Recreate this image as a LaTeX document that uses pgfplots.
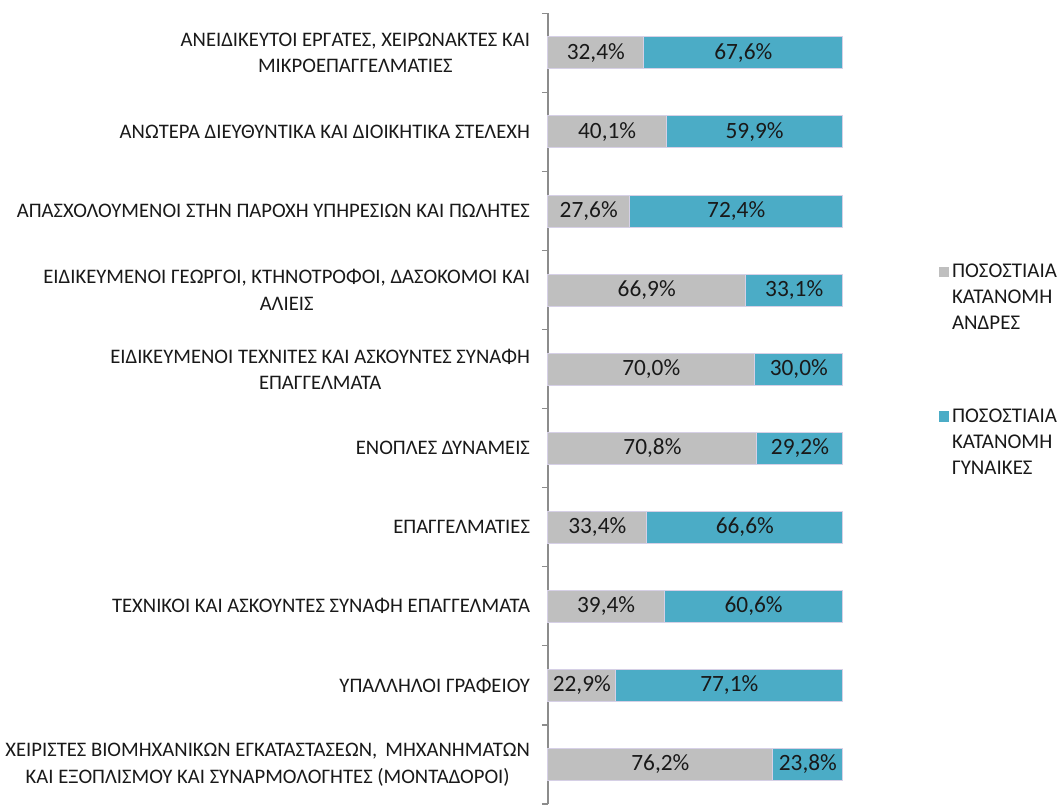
\documentclass[border=0pt]{standalone}
\usepackage{pgfplots}
\pgfplotsset{compat=1.18}
\usepackage{pgfplotstable}
\usepackage{fontspec}
\setmainfont{Carlito}
\definecolor{mgrey}{HTML}{BFBFBF}
\definecolor{fteal}{HTML}{4BACC6}
\definecolor{bord}{HTML}{D6D0E6}
\definecolor{axgrey}{HTML}{8C8C8C}

\pgfplotstableread{
i m w
0 32.4 67.6
1 40.1 59.9
2 27.6 72.4
3 66.9 33.1
4 70.0 30.0
5 70.8 29.2
6 33.4 66.6
7 39.4 60.6
8 22.9 77.1
9 76.2 23.8
}\data

\begin{document}
\begin{tikzpicture}
\begin{axis}[
 scale only axis, width=221.25pt, height=592.95pt,
 xbar stacked, bar width=24pt,
 xmin=0, xmax=100, ymin=-0.5, ymax=9.5, y dir=reverse,
 axis x line=none, axis y line*=left,
 axis line style={axgrey, line width=0.9pt, -},
 ytick={0,...,9},
 yticklabels={
  {ΑΝΕΙΔΙΚΕΥΤΟΙ ΕΡΓΑΤΕΣ, ΧΕΙΡΩΝΑΚΤΕΣ ΚΑΙ\\ΜΙΚΡΟΕΠΑΓΓΕΛΜΑΤΙΕΣ},
  {ΑΝΩΤΕΡΑ ΔΙΕΥΘΥΝΤΙΚΑ ΚΑΙ ΔΙΟΙΚΗΤΙΚΑ ΣΤΕΛΕΧΗ},
  {ΑΠΑΣΧΟΛΟΥΜΕΝΟΙ ΣΤΗΝ ΠΑΡΟΧΗ ΥΠΗΡΕΣΙΩΝ ΚΑΙ ΠΩΛΗΤΕΣ},
  {ΕΙΔΙΚΕΥΜΕΝΟΙ ΓΕΩΡΓΟΙ, ΚΤΗΝΟΤΡΟΦΟΙ, ΔΑΣΟΚΟΜΟΙ ΚΑΙ\\ΑΛΙΕΙΣ},
  {ΕΙΔΙΚΕΥΜΕΝΟΙ ΤΕΧΝΙΤΕΣ ΚΑΙ ΑΣΚΟΥΝΤΕΣ ΣΥΝΑΦΗ\\ΕΠΑΓΓΕΛΜΑΤΑ},
  {ΕΝΟΠΛΕΣ ΔΥΝΑΜΕΙΣ},
  {ΕΠΑΓΓΕΛΜΑΤΙΕΣ},
  {ΤΕΧΝΙΚΟΙ ΚΑΙ ΑΣΚΟΥΝΤΕΣ ΣΥΝΑΦΗ ΕΠΑΓΓΕΛΜΑΤΑ},
  {ΥΠΑΛΛΗΛΟΙ ΓΡΑΦΕΙΟΥ},
  {ΧΕΙΡΙΣΤΕΣ ΒΙΟΜΗΧΑΝΙΚΩΝ ΕΓΚΑΤΑΣΤΑΣΕΩΝ,\, ΜΗΧΑΝΗΜΑΤΩΝ\\ΚΑΙ ΕΞΟΠΛΙΣΜΟΥ ΚΑΙ ΣΥΝΑΡΜΟΛΟΓΗΤΕΣ (ΜΟΝΤΑΔΟΡΟΙ)}
 },
 minor ytick={-0.5,0.5,...,9.5},
 major tick length=0pt, minor tick length=4.5pt, tick align=outside,
 tick style={axgrey, line width=0.9pt},
 yticklabel style={align=center, font=\fontsize{15.5}{20}\selectfont, text=black!90, xshift=-10pt},
 /pgf/number format/assume math mode=true,
 point meta=explicit,
 nodes near coords={\pgfmathprintnumber[fixed,fixed zerofill,precision=1,use comma]{\pgfplotspointmeta}\%},
 every node near coord/.append style={anchor=center, font=\fontsize{17.5}{20}\selectfont, text=black!90},
 legend style={at={(1.31,0.69)}, anchor=north west, draw=none, fill=none,
   font=\fontsize{15.7}{19.5}\selectfont, nodes={align=left, text=black!90}, row sep=54pt},
 legend cell align=left,
 legend image code/.code={\fill[#1, draw=none] (0pt,15.5pt) rectangle (8pt,23.5pt);},
 clip=false,
]
\coordinate (SW) at (rel axis cs:0,0);
\addplot[fill=mgrey, draw=bord, line width=0.75pt] table[x=m, y=i, meta=m] {\data};
\addplot[fill=fteal, draw=bord, line width=0.75pt] table[x=w, y=i, meta=w] {\data};
\legend{{ΠΟΣΟΣΤΙΑΙΑ\\ΚΑΤΑΝΟΜΗ\\ΑΝΔΡΕΣ},{ΠΟΣΟΣΤΙΑΙΑ\\ΚΑΤΑΝΟΜΗ\\ΓΥΝΑΙΚΕΣ}}
\end{axis}
\pgfresetboundingbox
\path[use as bounding box] ([xshift=-411pt]SW) rectangle ([xshift=386.25pt,yshift=603pt]SW);
\end{tikzpicture}
\end{document}
